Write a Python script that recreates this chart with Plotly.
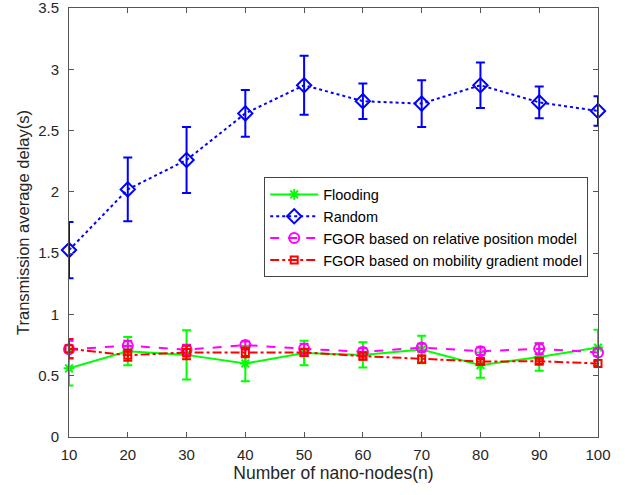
import plotly.graph_objects as go

# x values: number of nano-nodes
nodes = [10, 20, 30, 40, 50, 60, 70, 80, 90, 100]

# mean delays and error bar half-lengths
flooding = [0.56, 0.70, 0.67, 0.60, 0.685, 0.67, 0.714, 0.586, 0.652, 0.73]
flooding_err = [0.14, 0.115, 0.20, 0.145, 0.10, 0.103, 0.113, 0.103, 0.111, 0.145]

random_ = [1.525, 2.02, 2.26, 2.64, 2.87, 2.74, 2.72, 2.87, 2.73, 2.66]
random_err = [0.23, 0.26, 0.27, 0.19, 0.24, 0.145, 0.19, 0.185, 0.13, 0.12]

fgor_rel = [0.715, 0.745, 0.712, 0.75, 0.72, 0.694, 0.73, 0.70, 0.72, 0.69]
fgor_rel_err = [0.07, 0.04, 0.04, 0.03, 0.04, 0.03, 0.03, 0.03, 0.045, 0.03]

fgor_mob = [0.72, 0.667, 0.69, 0.69, 0.69, 0.66, 0.635, 0.616, 0.618, 0.60]
fgor_mob_err = [0.08, 0.045, 0.055, 0.04, 0.03, 0.03, 0.03, 0.02, 0.02, 0.02]

y_ticks = [0, 0.5, 1, 1.5, 2, 2.5, 3, 3.5]

series = [
    ("Flooding", flooding, flooding_err, "#00ff00", "solid", "asterisk-open", 9),
    ("Random", random_, random_err, "#0000ff", "dot", "diamond-open", 11),
    ("FGOR based on relative position model", fgor_rel, fgor_rel_err, "#ff00ff", "dash", "circle-open", 10),
    ("FGOR based on mobility gradient model", fgor_mob, fgor_mob_err, "#ff0000", "dashdot", "square-open", 7),
]

fig = go.Figure()
for name, y, err, color, dash, symbol, size in series:
    fig.add_trace(go.Scatter(
        x=nodes, y=y, name=name, mode="lines+markers", cliponaxis=False,
        line=dict(color=color, width=2, dash=dash),
        marker=dict(symbol=symbol, size=size, color=color,
                    line=dict(color=color, width=2)),
        error_y=dict(type="data", array=err, visible=True,
                     color=color, thickness=2, width=4.5),
    ))

axis_style = dict(
    showline=True, linecolor="#555555", linewidth=1, mirror="allticks",
    ticks="inside", ticklen=5, tickcolor="#555555", showgrid=False,
    zeroline=False, tickfont=dict(size=15, color="#262626"),
    ticklabeloverflow="allow", automargin=False,
)

fig.update_layout(
    width=629, height=495,
    margin=dict(l=69, r=31, t=8, b=58, autoexpand=False),
    paper_bgcolor="white", plot_bgcolor="white",
    font=dict(family="Liberation Sans, Arial, sans-serif", color="#262626"),
    xaxis=dict(range=[10, 100], tickvals=nodes, ticklabelstandoff=4,
               title=dict(text="Number of nano-nodes(n)", font=dict(size=17.5), standoff=4),
               **axis_style),
    yaxis=dict(range=[0, 3.5], tickvals=y_ticks, ticklabelstandoff=6,
               title=dict(text="Transmission average delay(s)", font=dict(size=16.5), standoff=4),
               **axis_style),
    legend=dict(x=0.369, y=0.605, xanchor="left", yanchor="top",
                bgcolor="white", bordercolor="#444444", borderwidth=1,
                font=dict(size=14.5, color="#000000"), tracegroupgap=0,
                itemwidth=48),
    showlegend=True,
)

# drop the default body margin so the figure sits at the page corner
fig.write_html("out.html", config={"displayModeBar": False},
               post_script="document.body.style.margin='0px';")
